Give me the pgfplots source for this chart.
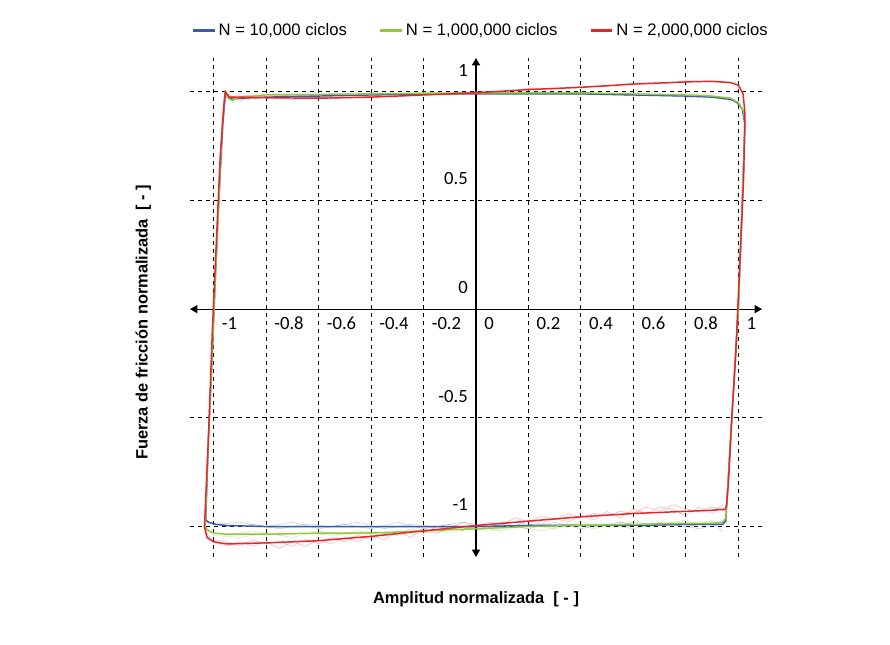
\documentclass[border=0pt]{standalone}
\usepackage{fontspec}
\setmainfont{Liberation Sans}
\newfontfamily\tickfont{Carlito}
\usepackage{pgfplots}
\pgfplotsset{compat=1.18}
\usetikzlibrary{arrows.meta}
\definecolor{cblue}{RGB}{58,88,176}
\definecolor{cgreen}{RGB}{146,200,62}
\definecolor{cred}{RGB}{232,36,40}
\begin{document}
\begin{tikzpicture}
\path[use as bounding box] (0pt,0pt) rectangle (667.5pt,483pt);
\begin{axis}[
  at={(142.5pt,65.25pt)}, anchor=south west,
  scale only axis, width=429pt, height=374.25pt,
  xmin=-1.09, xmax=1.09, ymin=-1.14, ymax=1.155,
  axis lines=middle,
  axis line style={{Triangle[length=5.5pt,width=6pt]}-{Triangle[length=5.5pt,width=6pt]}, line width=0.9pt, black},
  xtick={-1,-0.8,-0.6,-0.4,-0.2,0,0.2,0.4,0.6,0.8,1},
  xticklabels={-1,-0.8,-0.6,-0.4,-0.2,0,0.2,0.4,0.6,0.8,1},
  ytick={-1,-0.5,0,0.5,1},
  yticklabels={-1,-0.5,0,0.5,1},
  extra x ticks={0.0001}, extra x tick labels={0},
  extra y ticks={0.0001}, extra y tick labels={0},
  extra tick style={grid=none},
  major tick length=0pt,
  grid=major,
  grid style={black, line width=0.7pt, dash pattern=on 3pt off 3pt},
  ticklabel style={font=\tickfont\fontsize{14}{16}\selectfont, text height=8.9pt, text depth=0pt},
  xticklabel style={anchor=north west, inner sep=0pt, xshift=6pt, yshift=-6pt},
  yticklabel style={anchor=south east, inner sep=0pt, xshift=-6pt, yshift=11.5pt},
  xlabel={Amplitud normalizada\ \ [ - ]},
  ylabel={Fuerza de fricción normalizada\ \ [ - ]},
  every axis x label/.style={at={(axis description cs:0.5,-0.0855)}, anchor=center, font=\bfseries\fontsize{12.3}{14}\selectfont},
  every axis y label/.style={at={(axis description cs:-0.0816,0.4706)}, anchor=center, rotate=90, font=\bfseries\fontsize{12.3}{14}\selectfont},
  legend columns=3,
  legend style={at={(axis description cs:0.509,1.056)}, anchor=center, draw=none, fill=none, inner sep=0pt,
    font=\fontsize{12.5}{14}\selectfont, /tikz/every even column/.append style={column sep=22pt}},
  legend image code/.code={\draw[#1, line width=2.2pt] (0pt,0pt) -- (16pt,0pt);},
  clip=false,
]
% faint repeated cycles
\addplot[cred, line width=0.4pt, opacity=0.35, forget plot] coordinates {(0.95,-0.93)(0.9,-0.91)(0.85,-0.93)(0.8,-0.92)(0.75,-0.9)(0.7,-0.93)(0.65,-0.91)(0.6,-0.94)(0.55,-0.93)(0.5,-0.95)(0.45,-0.94)(0.4,-0.96)(0.35,-0.94)(0.3,-0.97)(0.25,-0.95)(0.2,-0.98)(0.15,-0.96)(0.1,-0.99)(0.05,-0.98)(0,-1.0)(-0.05,-0.98)(-0.1,-1.01)(-0.15,-1.0)(-0.2,-1.03)(-0.25,-1.01)(-0.3,-1.04)(-0.35,-1.03)(-0.4,-1.06)(-0.45,-1.04)(-0.5,-1.07)(-0.55,-1.05)(-0.6,-1.08)(-0.65,-1.06)(-0.7,-1.09)(-0.75,-1.07)(-0.8,-1.08)(-0.85,-1.06)(-0.9,-1.09)(-0.95,-1.07)(-1.0,-1.06)(-1.03,-1.03)};
\addplot[cred, line width=0.4pt, opacity=0.35, forget plot] coordinates {(0.94,-0.9)(0.9,-0.94)(0.85,-0.91)(0.8,-0.95)(0.75,-0.92)(0.7,-0.91)(0.65,-0.94)(0.6,-0.92)(0.55,-0.96)(0.5,-0.93)(0.45,-0.97)(0.4,-0.95)(0.35,-0.98)(0.3,-0.96)(0.25,-0.99)(0.2,-0.97)(0.15,-1.0)(0.1,-0.98)(0.05,-1.01)(0,-0.99)(-0.05,-1.02)(-0.1,-1.0)(-0.15,-1.03)(-0.2,-1.01)(-0.25,-1.05)(-0.3,-1.02)(-0.35,-1.06)(-0.4,-1.04)(-0.45,-1.07)(-0.5,-1.05)(-0.55,-1.08)(-0.6,-1.06)(-0.65,-1.09)(-0.7,-1.07)(-0.75,-1.1)(-0.8,-1.07)(-0.85,-1.09)(-0.9,-1.07)(-0.95,-1.09)(-1.0,-1.07)(-1.03,-1.04)};
\addplot[cgreen, line width=0.4pt, opacity=0.4, forget plot] coordinates {(0.94,-1.0)(0.9,-0.97)(0.85,-0.99)(0.8,-0.97)(0.7,-0.99)(0.6,-0.98)(0.5,-1.0)(0.4,-0.98)(0.3,-1.01)(0.2,-0.99)(0.1,-1.02)(0,-1.0)(-0.1,-1.03)(-0.2,-1.01)(-0.3,-1.04)(-0.4,-1.02)(-0.5,-1.04)(-0.6,-1.02)(-0.7,-1.05)(-0.8,-1.03)(-0.9,-1.05)(-1.0,-1.04)(-1.03,-1.01)};
\addplot[cgreen, line width=0.4pt, opacity=0.4, forget plot] coordinates {(0.93,-0.98)(0.85,-1.0)(0.75,-0.98)(0.65,-1.0)(0.55,-0.98)(0.45,-1.01)(0.35,-0.99)(0.25,-1.02)(0.15,-1.0)(0.05,-1.02)(-0.05,-1.0)(-0.15,-1.03)(-0.25,-1.02)(-0.35,-1.04)(-0.45,-1.02)(-0.55,-1.04)(-0.65,-1.03)(-0.75,-1.04)(-0.85,-1.02)(-0.95,-1.04)(-1.03,-1.02)};
\addplot[cblue, line width=0.4pt, opacity=0.3, forget plot] coordinates {(0.94,-1.02)(0.9,-0.98)(0.8,-1.0)(0.7,-0.98)(0.6,-1.01)(0.5,-0.99)(0.4,-1.01)(0.3,-0.98)(0.2,-1.01)(0.1,-0.99)(0,-1.02)(-0.1,-0.99)(-0.2,-1.01)(-0.3,-0.98)(-0.4,-1.01)(-0.5,-0.99)(-0.6,-1.01)(-0.7,-0.98)(-0.8,-1.0)(-0.9,-0.98)(-1.0,-0.99)(-1.03,-0.97)};
\addplot[cblue, line width=0.4pt, opacity=0.3, forget plot] coordinates {(0.93,-0.99)(0.85,-1.01)(0.75,-0.99)(0.65,-1.0)(0.55,-0.98)(0.45,-1.0)(0.35,-0.99)(0.25,-1.0)(0.15,-0.98)(0.05,-1.0)(-0.05,-0.98)(-0.15,-1.0)(-0.25,-0.99)(-0.35,-1.01)(-0.45,-0.98)(-0.55,-1.0)(-0.65,-0.99)(-0.75,-1.01)(-0.85,-0.99)(-0.95,-1.0)(-1.03,-0.98)};
\addplot[cred, line width=0.4pt, opacity=0.35, forget plot] coordinates {(-0.95,0.99)(-0.9,0.96)(-0.8,0.975)(-0.7,0.965)(-0.6,0.975)(-0.5,0.97)(-0.4,0.98)(-0.3,0.975)(-0.2,0.99)(-0.1,0.985)(0,1.0)(0.1,1.0)(0.2,1.015)(0.3,1.01)(0.4,1.025)(0.5,1.025)(0.6,1.04)(0.7,1.035)(0.8,1.05)(0.9,1.045)(0.97,1.04)};
\addplot[cgreen, line width=0.4pt, opacity=0.4, forget plot] coordinates {(-0.95,0.98)(-0.92,0.95)(-0.88,0.97)(-0.8,0.99)(-0.7,0.98)(-0.6,0.99)(-0.5,0.98)(-0.4,0.995)(-0.3,0.985)(-0.2,1.0)(-0.1,0.99)(0,1.0)(0.1,0.995)(0.2,1.005)(0.3,0.995)(0.4,1.0)(0.5,0.99)(0.6,0.995)(0.7,0.985)(0.8,0.99)(0.9,0.98)(0.97,0.97)};
\addplot[cblue, line width=0.4pt, opacity=0.3, forget plot] coordinates {(-0.95,0.97)(-0.9,0.985)(-0.8,0.975)(-0.7,0.985)(-0.6,0.98)(-0.5,0.99)(-0.4,0.98)(-0.3,0.99)(-0.2,0.985)(-0.1,0.995)(0,0.99)(0.1,0.995)(0.2,0.99)(0.3,0.995)(0.4,0.985)(0.5,0.99)(0.6,0.98)(0.7,0.985)(0.8,0.975)(0.9,0.975)(0.97,0.96)};
% main cycles
\addplot[cblue, line width=1.1pt] coordinates {(-1.03,-0.97)(-1.02,-0.6)(-1.005,-0.2)(-0.995,0.1)(-0.98,0.5)(-0.965,0.85)(-0.958,0.95)(-0.955,0.99)(-0.945,0.975)(-0.93,0.965)(-0.9,0.97)(-0.8,0.975)(-0.6,0.98)(-0.4,0.985)(-0.2,0.99)(0,0.99)(0.2,0.99)(0.4,0.99)(0.6,0.985)(0.8,0.98)(0.9,0.975)(0.97,0.965)(0.995,0.95)(1.015,0.92)(1.025,0.85)(1.015,0.5)(1.0,0.0)(0.985,-0.3)(0.97,-0.6)(0.958,-0.85)(0.952,-0.975)(0.94,-0.99)(0.9,-0.99)(0.8,-0.99)(0.6,-0.995)(0.4,-0.995)(0.2,-0.995)(0,-1.0)(-0.2,-1.0)(-0.4,-1.0)(-0.6,-1.0)(-0.8,-1.0)(-0.95,-0.995)(-0.99,-0.99)(-1.02,-0.98)(-1.03,-0.97)};
\addlegendentry{N = 10,000 ciclos}
\addplot[cgreen, line width=1.1pt] coordinates {(-1.032,-1.0)(-1.02,-0.6)(-1.005,-0.2)(-0.995,0.1)(-0.98,0.5)(-0.967,0.85)(-0.96,0.95)(-0.955,1.0)(-0.945,0.97)(-0.93,0.96)(-0.9,0.975)(-0.8,0.985)(-0.6,0.988)(-0.4,0.99)(-0.2,0.993)(0,0.995)(0.2,0.995)(0.4,0.995)(0.6,0.99)(0.8,0.985)(0.9,0.98)(0.97,0.97)(1.0,0.95)(1.02,0.91)(1.025,0.85)(1.015,0.5)(1.0,0.0)(0.985,-0.3)(0.97,-0.6)(0.958,-0.85)(0.952,-0.96)(0.94,-0.98)(0.9,-0.985)(0.8,-0.985)(0.6,-0.99)(0.4,-0.995)(0.2,-1.0)(0,-1.01)(-0.2,-1.02)(-0.4,-1.03)(-0.6,-1.03)(-0.8,-1.035)(-0.95,-1.035)(-1.0,-1.03)(-1.025,-1.015)(-1.032,-1.0)};
\addlegendentry{N = 1,000,000 ciclos}
\addplot[cred, line width=1.1pt] coordinates {(-1.035,-1.0)(-1.02,-0.6)(-1.005,-0.1)(-0.99,0.3)(-0.975,0.7)(-0.96,0.95)(-0.955,1.0)(-0.94,0.975)(-0.9,0.975)(-0.8,0.972)(-0.6,0.97)(-0.4,0.975)(-0.2,0.985)(0,0.995)(0.2,1.01)(0.4,1.02)(0.6,1.035)(0.8,1.045)(0.9,1.048)(0.97,1.042)(1.0,1.03)(1.018,0.99)(1.025,0.9)(1.02,0.6)(1.005,0.2)(0.99,-0.2)(0.975,-0.5)(0.962,-0.8)(0.955,-0.9)(0.95,-0.92)(0.9,-0.925)(0.8,-0.93)(0.6,-0.94)(0.4,-0.955)(0.2,-0.975)(0,-0.995)(-0.2,-1.02)(-0.4,-1.045)(-0.6,-1.065)(-0.8,-1.075)(-0.95,-1.08)(-1.0,-1.07)(-1.025,-1.05)(-1.035,-1.0)};
\addlegendentry{N = 2,000,000 ciclos}
\end{axis}
\end{tikzpicture}
\end{document}
